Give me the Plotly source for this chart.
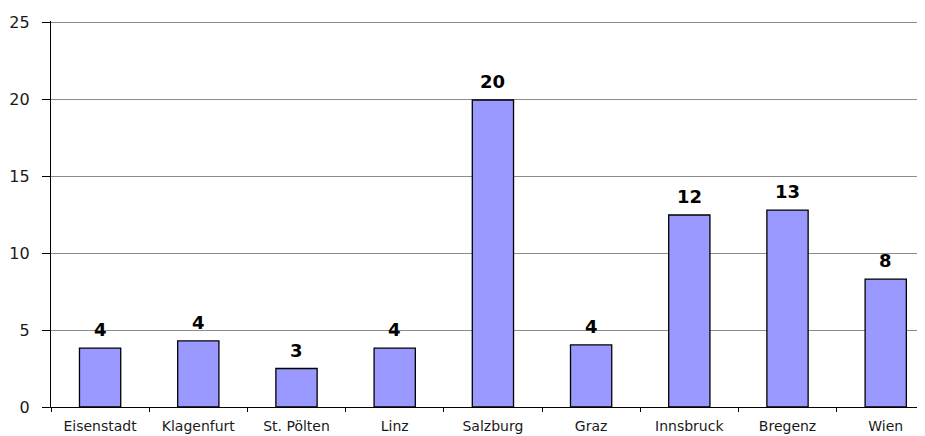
import plotly.graph_objects as go

cities = ["Eisenstadt", "Klagenfurt", "St. Pölten", "Linz", "Salzburg", "Graz", "Innsbruck", "Bregenz", "Wien"]
values = [3.83, 4.29, 2.5, 3.83, 19.94, 4.03, 12.47, 12.79, 8.31]
labels = ["4", "4", "3", "4", "20", "4", "12", "13", "8"]
yticks = [0, 5, 10, 15, 20, 25]

fig = go.Figure(go.Bar(
    x=cities, y=values,
    marker=dict(color="#9999FF", line=dict(color="#000000", width=1.3)),
    width=0.42,
))

for c, v, t in zip(cities, values, labels):
    fig.add_annotation(
        x=c, y=v, text="<b>" + t + "</b>", showarrow=False,
        yanchor="bottom", yshift=6,
        font=dict(family="DejaVu Sans", size=18, color="#000000"),
    )

fig.update_layout(
    width=917, height=428,
    margin=dict(l=43, r=0, t=13, b=29, autoexpand=False),
    paper_bgcolor="white", plot_bgcolor="white",
    showlegend=False,
    font=dict(family="DejaVu Sans", color="#000000"),
)
fig.update_xaxes(
    range=[-0.5, 8.4], showline=True, linecolor="#000000", linewidth=1.3,
    ticks="outside", tickson="boundaries", ticklen=4, tickcolor="#000000",
    ticklabelstandoff=6,
    tickfont=dict(size=14, color="#1a1a1a"), showgrid=False, fixedrange=True,
    automargin=False,
)
fig.update_yaxes(
    range=[0, 25.07], tickvals=yticks, showline=True, linecolor="#000000", linewidth=1.3,
    ticks="outside", ticklen=8, tickcolor="#000000", ticklabelstandoff=9,
    tickfont=dict(size=16, color="#1a1a1a"), gridcolor="#8c8c8c", gridwidth=1, zeroline=False,
    automargin=False,
)

fig.write_html("out.html")
